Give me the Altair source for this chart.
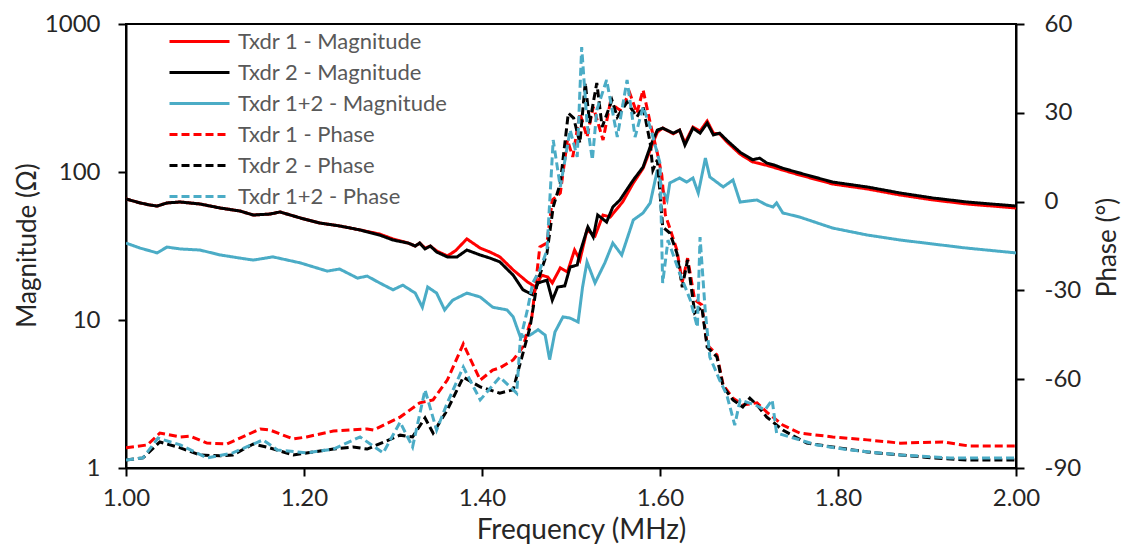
import altair as alt
import pandas as pd

# ---------------- data ----------------
series_order = ["Txdr 1 - Magnitude", "Txdr 2 - Magnitude", "Txdr 1+2 - Magnitude",
                "Txdr 1 - Phase", "Txdr 2 - Phase", "Txdr 1+2 - Phase"]
series_colors = ["#FF0000", "#000000", "#4BACC6", "#FF0000", "#000000", "#4BACC6"]
series_dashes = [[1, 0], [1, 0], [1, 0], [8, 4], [8, 4], [8, 4]]

x_ticks = [1.0, 1.2, 1.4, 1.6, 1.8, 2.0]
mag_ticks = [1, 10, 100, 1000]
phase_ticks = [-90, -60, -30, 0, 30, 60]

# Txdr 1 - Magnitude (ohm)
mag1_f = [1.000, 1.016, 1.027, 1.035, 1.046, 1.061, 1.083, 1.106, 1.128, 1.143, 1.162, 1.173, 1.196, 1.218, 1.240,
          1.263, 1.285, 1.300, 1.317, 1.325, 1.330, 1.336, 1.342, 1.349, 1.361, 1.370, 1.383, 1.398, 1.409, 1.420,
          1.435, 1.451, 1.460, 1.467, 1.474, 1.479, 1.488, 1.496, 1.504, 1.510, 1.518, 1.527, 1.536, 1.544, 1.558,
          1.570, 1.581, 1.589, 1.597, 1.603, 1.615, 1.622, 1.628, 1.637, 1.645, 1.653, 1.660, 1.667, 1.675, 1.690,
          1.704, 1.720, 1.738, 1.757, 1.794, 1.833, 1.870, 1.907, 1.945, 2.000]
mag1_v = [65.7, 61.8, 59.8, 58.9, 61.8, 62.7, 60.8, 57.1, 54.5, 51.2, 52.0, 53.7, 48.9, 45.2, 43.2,
          40.6, 38.1, 35.3, 33.1, 31.6, 33.1, 30.6, 31.6, 29.3, 27.1, 29.3, 35.3, 30.6, 28.8, 26.7,
          21.8, 18.1, 16.7, 20.1, 19.5, 17.8, 22.5, 21.1, 29.7, 25.4, 40.6, 37.0, 51.2, 49.6, 62.7,
          84.3, 106, 141, 186, 198, 181, 192, 157, 201, 189, 221, 183, 181, 160, 132,
          117, 111, 103, 95.4, 83.0, 76.8, 69.9, 64.7, 60.8, 57.1]

# Txdr 2 - Magnitude (ohm)
mag2_f = [1.000, 1.016, 1.027, 1.035, 1.046, 1.061, 1.083, 1.106, 1.128, 1.143, 1.162, 1.173, 1.196, 1.218, 1.240,
          1.263, 1.285, 1.300, 1.317, 1.325, 1.330, 1.336, 1.342, 1.349, 1.361, 1.372, 1.383, 1.398, 1.409, 1.420,
          1.435, 1.446, 1.457, 1.463, 1.473, 1.479, 1.485, 1.493, 1.499, 1.507, 1.510, 1.519, 1.525, 1.530, 1.540,
          1.547, 1.555, 1.570, 1.581, 1.589, 1.597, 1.603, 1.615, 1.622, 1.628, 1.637, 1.645, 1.653, 1.660, 1.667,
          1.675, 1.690, 1.704, 1.712, 1.720, 1.729, 1.738, 1.757, 1.794, 1.833, 1.870, 1.907, 1.945, 2.000]
mag2_v = [65.7, 61.8, 59.8, 58.9, 61.8, 62.7, 60.8, 57.1, 54.5, 51.2, 52.0, 53.7, 48.9, 45.2, 43.2,
          40.6, 37.5, 34.7, 33.1, 31.6, 33.1, 30.2, 31.6, 28.8, 26.7, 26.7, 29.7, 27.5, 26.2, 24.7,
          20.1, 16.0, 14.8, 17.8, 18.6, 13.6, 16.7, 17.0, 22.8, 23.5, 28.4, 42.5, 36.4, 51.2, 45.9,
          58.0, 64.7, 88.3, 108, 148, 192, 198, 183, 192, 152, 198, 183, 214, 178, 183,
          164, 136, 121, 124, 115, 111, 106, 98.4, 85.5, 79.2, 72.1, 66.7, 62.7, 58.9]

# Txdr 1+2 - Magnitude (ohm)
mag12_f = [1.000, 1.016, 1.035, 1.046, 1.061, 1.083, 1.106, 1.128, 1.143, 1.165, 1.196, 1.226, 1.240, 1.260, 1.271,
           1.285, 1.300, 1.311, 1.325, 1.333, 1.339, 1.349, 1.358, 1.367, 1.383, 1.398, 1.412, 1.428, 1.435, 1.443,
           1.454, 1.463, 1.471, 1.476, 1.482, 1.491, 1.499, 1.508, 1.513, 1.518, 1.527, 1.538, 1.547, 1.557, 1.570,
           1.581, 1.589, 1.597, 1.603, 1.608, 1.611, 1.622, 1.630, 1.637, 1.643, 1.651, 1.656, 1.671, 1.682, 1.690,
           1.709, 1.720, 1.727, 1.731, 1.738, 1.757, 1.794, 1.833, 1.870, 1.907, 1.945, 2.000]
mag12_v = [33.1, 30.6, 28.4, 31.1, 30.2, 29.7, 27.5, 26.2, 25.4, 26.7, 24.3, 21.4, 22.1, 19.2, 19.8,
           17.8, 16.0, 17.2, 15.2, 12.2, 16.7, 15.2, 11.7, 13.6, 15.2, 14.3, 12.2, 11.7, 10.5, 7.7,
           7.9, 8.6, 7.9, 5.4, 8.3, 10.5, 10.3, 9.7, 16.7, 24.7, 17.8, 24.3, 33.1, 27.5, 47.4,
           52.9, 61.8, 103, 75.6, 64.7, 84.3, 91.1, 85.5, 91.1, 72.1, 124, 92.5, 79.2, 88.3, 62.7,
           64.7, 59.8, 58.0, 61.8, 52.9, 49.6, 41.8, 37.5, 34.7, 32.6, 30.6, 28.4]

# Txdr 1 - Phase (deg)
ph1_f = [1.000, 1.024, 1.038, 1.061, 1.072, 1.091, 1.113, 1.128, 1.151, 1.162, 1.188, 1.203, 1.233, 1.271, 1.278,
         1.308, 1.330, 1.345, 1.361, 1.379, 1.398, 1.412, 1.420, 1.435, 1.446, 1.456, 1.465, 1.473, 1.479, 1.488,
         1.496, 1.502, 1.510, 1.518, 1.525, 1.536, 1.544, 1.555, 1.566, 1.574, 1.581, 1.589, 1.597, 1.602, 1.606,
         1.611, 1.619, 1.625, 1.631, 1.639, 1.647, 1.653, 1.664, 1.671, 1.682, 1.693, 1.709, 1.720, 1.738, 1.757,
         1.794, 1.833, 1.870, 1.918, 1.948, 2.000]
ph1_v = [-83.2, -82.2, -78.2, -79.5, -79.2, -81.6, -81.9, -79.9, -76.8, -77.2, -80.2, -79.5, -77.5, -76.8, -77.2,
         -72.8, -68.0, -67.0, -60.3, -48.1, -60.3, -56.9, -56.2, -53.5, -49.1, -39.0, -15.3, -14.0, 0.5, 2.9,
         20.8, 15.1, 29.9, 21.8, 32.0, 20.8, 33.3, 30.9, 36.7, 29.9, 37.7, 26.6, 16.4, 9.0, -4.5,
         -8.9, -16.4, -27.2, -19.1, -33.2, -34.9, -48.4, -51.8, -62.0, -66.4, -68.7, -68.0, -71.1, -75.5, -78.2,
         -79.5, -80.5, -81.6, -81.2, -82.6, -82.6]

# Txdr 2 - Phase (deg)
ph2_f = [1.000, 1.019, 1.038, 1.061, 1.083, 1.106, 1.120, 1.143, 1.158, 1.188, 1.210, 1.233, 1.255, 1.271, 1.308,
         1.322, 1.336, 1.345, 1.361, 1.379, 1.398, 1.420, 1.435, 1.443, 1.454, 1.462, 1.473, 1.480, 1.488, 1.497,
         1.503, 1.510, 1.516, 1.521, 1.529, 1.535, 1.546, 1.552, 1.563, 1.574, 1.581, 1.589, 1.592, 1.597, 1.600,
         1.603, 1.611, 1.619, 1.625, 1.631, 1.639, 1.647, 1.653, 1.664, 1.671, 1.682, 1.693, 1.701, 1.709, 1.720,
         1.738, 1.765, 1.794, 1.833, 1.870, 1.907, 1.945, 2.000]
ph2_v = [-87.3, -86.6, -81.2, -83.2, -85.6, -85.9, -85.6, -81.9, -82.9, -85.6, -84.6, -83.6, -82.9, -83.6, -78.9,
         -79.5, -73.1, -78.2, -70.4, -59.3, -62.6, -64.7, -63.6, -54.5, -42.4, -27.5, -17.4, -1.8, 6.3, 29.9,
         28.2, 19.8, 40.1, 26.6, 40.1, 25.2, 34.3, 28.6, 33.6, 28.6, 32.0, 19.8, 10.7, 14.1, 2.9,
         -8.6, -10.6, -17.4, -28.9, -19.7, -37.6, -35.6, -49.1, -52.5, -62.6, -67.0, -69.4, -66.4, -68.7, -72.8,
         -77.2, -81.6, -82.9, -84.6, -85.6, -86.6, -87.3, -87.3]

# Txdr 1+2 - Phase (deg)
ph12_f = [1.000, 1.019, 1.036, 1.061, 1.091, 1.120, 1.154, 1.170, 1.203, 1.233, 1.263, 1.289, 1.308, 1.322, 1.336,
          1.349, 1.361, 1.379, 1.398, 1.420, 1.439, 1.443, 1.451, 1.457, 1.465, 1.473, 1.480, 1.488, 1.499, 1.507,
          1.512, 1.518, 1.524, 1.529, 1.540, 1.552, 1.563, 1.572, 1.581, 1.589, 1.600, 1.603, 1.609, 1.622, 1.634,
          1.642, 1.645, 1.651, 1.656, 1.667, 1.675, 1.684, 1.690, 1.707, 1.718, 1.726, 1.731, 1.757, 1.776, 1.813,
          1.870, 1.926, 2.000]
ph12_v = [-87.3, -86.6, -79.9, -82.2, -86.6, -84.9, -80.5, -83.9, -84.9, -83.6, -79.5, -84.9, -74.5, -82.9, -63.6,
          -77.2, -68.0, -55.9, -67.0, -59.3, -64.7, -46.8, -36.6, -27.5, -23.1, -16.4, 20.8, 4.9, 24.2, 15.1,
          52.2, 26.6, 14.1, 30.9, 41.1, 21.8, 41.1, 21.8, 32.0, 25.2, 13.0, -27.5, -13.0, -24.1, -33.2,
          -42.4, -12.0, -37.6, -52.5, -60.3, -65.3, -75.5, -67.0, -68.7, -70.4, -67.0, -78.2, -80.5, -82.2, -83.9,
          -85.6, -86.6, -86.6]

# ---------------- build tables ----------------
def table(name, fs, vs):
    assert len(fs) == len(vs), name
    return pd.DataFrame({"freq": fs, "value": vs, "series": name})

FONT = "Lato"
TXT = "#262626"

legend = alt.Legend(title=None, orient="none", legendX=62, legendY=6,
                    symbolType="M-3,0L3,0", symbolSize=400, symbolStrokeWidth=3,
                    labelFont=FONT, labelFontSize=22, labelColor="#595959",
                    labelOffset=27, labelLimit=0, rowPadding=8)
color_enc = alt.Color("series:N", scale=alt.Scale(domain=series_order, range=series_colors), legend=legend)
dash_enc = alt.StrokeDash("series:N", scale=alt.Scale(domain=series_order, range=series_dashes), legend=legend)

x_enc = alt.X("freq:Q", scale=alt.Scale(domain=[1.0, 2.0], nice=False),
              axis=alt.Axis(values=x_ticks, format=".2f", title="Frequency (MHz)",
                            labelPadding=10, titleX=455, titleY=70, titleBaseline="alphabetic",
                            titleFontSize=28))

mag_y = alt.Y("value:Q", scale=alt.Scale(type="log", domain=[1, 1000], nice=False),
              axis=alt.Axis(values=mag_ticks, format="d", title="Magnitude (Ω)", orient="left",
                            labelPadding=18, titleAngle=270, titleX=-99, titleY=221,
                            titleBaseline="middle", titleAlign="center"))
ph_y = alt.Y("value:Q", scale=alt.Scale(domain=[-90, 60], nice=False),
             axis=alt.Axis(values=phase_ticks, labelExpr="datum.value + ''", title="Phase (°)",
                           orient="right", labelPadding=20, titleAngle=270, titleX=91, titleY=223,
                           titleBaseline="middle", titleAlign="center"))

def line(name, fs, vs, y_enc):
    return alt.Chart(table(name, fs, vs)).mark_line(strokeWidth=3, clip=True).encode(
        x=x_enc, y=y_enc, color=color_enc, strokeDash=dash_enc)

mag_layer = alt.layer(line(series_order[0], mag1_f, mag1_v, mag_y),
                      line(series_order[1], mag2_f, mag2_v, mag_y),
                      line(series_order[2], mag12_f, mag12_v, mag_y))
ph_layer = alt.layer(line(series_order[3], ph1_f, ph1_v, ph_y),
                     line(series_order[4], ph2_f, ph2_v, ph_y),
                     line(series_order[5], ph12_f, ph12_v, ph_y))

chart = alt.layer(mag_layer, ph_layer).resolve_scale(y="independent").properties(
    width=890, height=444,
    autosize=alt.AutoSizeParams(type="none"),
    padding={"left": 118, "top": 16, "right": 107, "bottom": 78},
    background="white",
).configure_view(stroke="black", strokeWidth=2).configure_axis(
    grid=False, domainColor="black", domainWidth=2, tickColor="black", tickWidth=2, tickSize=8,
    labelFont=FONT, labelFontSize=24, labelColor=TXT,
    titleFont=FONT, titleFontSize=26, titleColor=TXT, titleFontWeight="normal",
).configure_axisX(labelFlush=False)

chart.save("out.html", embed_options={"renderer": "svg", "actions": False})
